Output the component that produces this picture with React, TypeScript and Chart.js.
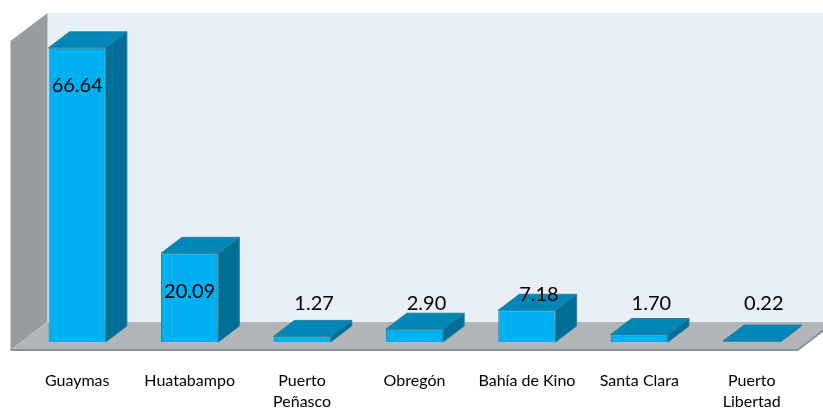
import { useEffect, useRef } from "react";
import { Chart, registerables } from "chart.js";

Chart.register(...registerables);

const categories: string[][] = [
  ["Guaymas"],
  ["Huatabampo"],
  ["Puerto", "Peñasco"],
  ["Obregón"],
  ["Bahía de Kino"],
  ["Santa Clara"],
  ["Puerto", "Libertad"],
];
const values: number[] = [66.64, 20.09, 1.27, 2.9, 7.18, 1.7, 0.22];
const axisMin = 0;
const axisMax = 70;

// 3D geometry (pixels)
const BAR_DX = 21;
const BAR_DY = -16;
const FRONT_DX = -10.5; // floor front edge relative to bar front plane
const FRONT_DY = 8;
const FLOOR_DX = 37; // full depth of floor / walls
const FLOOR_DY = -28;

const COLORS = {
  backWall: "#E9EFF7",
  sideWall: "#979C9F",
  floor: "#B3B6B9",
  floorEdge: "#8D9093",
  barFront: "#00B0F0",
  barTop: "#0087B7",
  barSide: "#006E96",
  barEdge: "#2B7E9C",
  text: "#000000",
};

const threeD = {
  id: "threeD",
  beforeDatasetsDraw(chart: any) {
    const { ctx, chartArea } = chart;
    const { left, right, top, bottom } = chartArea;
    const fx0 = left + FRONT_DX;
    const fx1 = right + FRONT_DX;
    const fy = bottom + FRONT_DY;
    const bx0 = fx0 + FLOOR_DX;
    const bx1 = fx1 + FLOOR_DX;
    const by = fy + FLOOR_DY;
    const wallTop = top + FRONT_DY + FLOOR_DY;
    ctx.save();
    // back wall
    ctx.fillStyle = COLORS.backWall;
    ctx.fillRect(bx0, wallTop, bx1 - bx0, by - wallTop);
    // left wall
    ctx.fillStyle = COLORS.sideWall;
    ctx.beginPath();
    ctx.moveTo(fx0, fy);
    ctx.lineTo(fx0, wallTop - FLOOR_DY);
    ctx.lineTo(bx0, wallTop);
    ctx.lineTo(bx0, by);
    ctx.closePath();
    ctx.fill();
    // floor
    ctx.fillStyle = COLORS.floor;
    ctx.beginPath();
    ctx.moveTo(fx0, fy);
    ctx.lineTo(fx1, fy);
    ctx.lineTo(bx1, by);
    ctx.lineTo(bx0, by);
    ctx.closePath();
    ctx.fill();
    ctx.strokeStyle = COLORS.floorEdge;
    ctx.lineWidth = 2;
    ctx.beginPath();
    ctx.moveTo(fx0, fy);
    ctx.lineTo(fx1, fy);
    ctx.lineTo(bx1, by);
    ctx.stroke();
    ctx.restore();
  },
  afterDatasetsDraw(chart: any) {
    const { ctx, chartArea, scales } = chart;
    const meta = chart.getDatasetMeta(0);
    ctx.save();
    ctx.lineWidth = 1;
    ctx.strokeStyle = COLORS.barEdge;
    meta.data.forEach((bar: any, i: number) => {
      const { x, y, base, width } = bar.getProps(["x", "y", "base", "width"], true);
      const x0 = x - width / 2;
      const x1 = x + width / 2;
      // top face
      ctx.fillStyle = COLORS.barTop;
      ctx.beginPath();
      ctx.moveTo(x0, y);
      ctx.lineTo(x1, y);
      ctx.lineTo(x1 + BAR_DX, y + BAR_DY);
      ctx.lineTo(x0 + BAR_DX, y + BAR_DY);
      ctx.closePath();
      ctx.fill();
      ctx.stroke();
      // side face
      ctx.fillStyle = COLORS.barSide;
      ctx.beginPath();
      ctx.moveTo(x1, y);
      ctx.lineTo(x1 + BAR_DX, y + BAR_DY);
      ctx.lineTo(x1 + BAR_DX, base + BAR_DY);
      ctx.lineTo(x1, base);
      ctx.closePath();
      ctx.fill();
      ctx.stroke();
    });
    // value labels
    ctx.fillStyle = COLORS.text;
    ctx.font = "20px Lato";
    ctx.textAlign = "center";
    ctx.textBaseline = "middle";
    meta.data.forEach((bar: any, i: number) => {
      const { x, y, base } = bar.getProps(["x", "y", "base"], true);
      const txt = values[i].toFixed(2);
      if (base - y > 60) {
        ctx.fillText(txt, x, y + 38);
      } else {
        ctx.fillText(txt, x + 12, Math.min(y - 16, base - 38));
      }
    });
    // category labels
    ctx.font = "16px Lato";
    const xs = scales.x;
    categories.forEach((lines, i) => {
      const cx = xs.getPixelForValue(i);
      lines.forEach((ln, j) => {
        ctx.fillText(ln, cx, chartArea.bottom + 39 + j * 20.5);
      });
    });
    ctx.restore();
  },
};

export default function App() {
  const ref = useRef<HTMLCanvasElement | null>(null);
  useEffect(() => {
    document.body.style.margin = "0";
    const canvas = ref.current!;
    const chart = new Chart(canvas, {
      type: "bar",
      data: {
        labels: categories,
        datasets: [
          {
            data: values,
            backgroundColor: COLORS.barFront,
            borderColor: COLORS.barEdge,
            borderWidth: 1,
            barPercentage: 0.51,
            categoryPercentage: 1,
          },
        ],
      },
      options: {
        responsive: false,
        animation: false,
        layout: { padding: { left: 21, right: 15, top: 33, bottom: 67 } },
        plugins: { legend: { display: false }, tooltip: { enabled: false } },
        scales: {
          x: { display: false, offset: true },
          y: { display: false, min: axisMin, max: axisMax },
        },
      },
      plugins: [threeD],
    });
    return () => chart.destroy();
  }, []);
  return (
    <div style={{ position: "fixed", left: 0, top: 0, width: 823, height: 409, background: "#fff" }}>
      <canvas ref={ref} width={823} height={409} style={{ width: 823, height: 409, display: "block" }} />
    </div>
  );
}
